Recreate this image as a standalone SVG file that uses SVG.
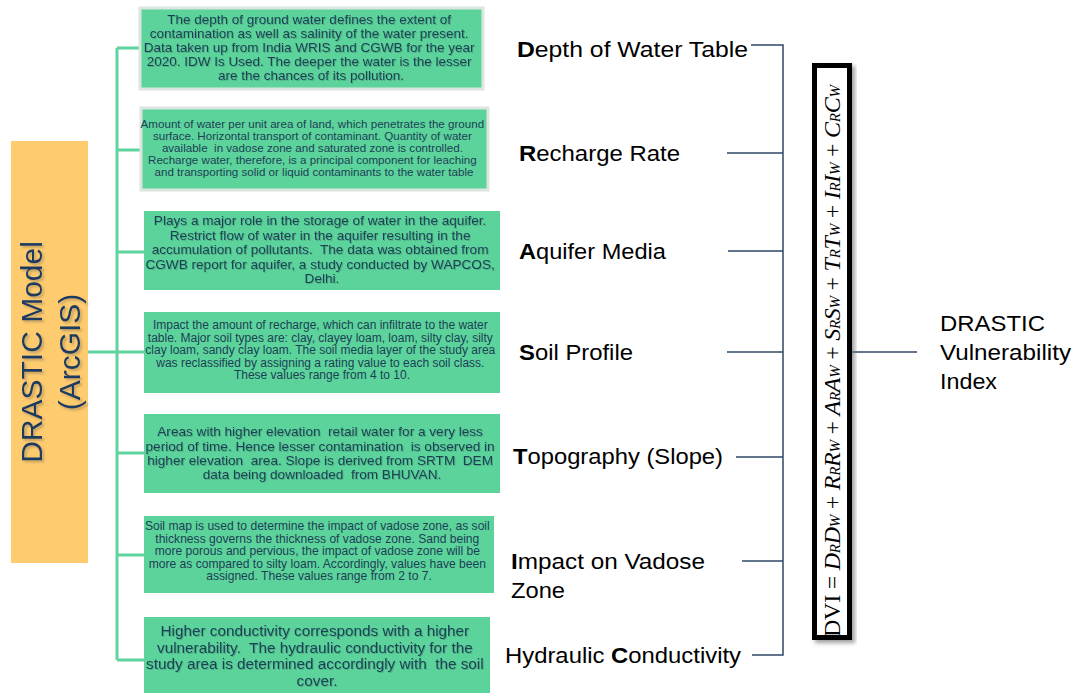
<svg xmlns="http://www.w3.org/2000/svg" width="1077" height="693" viewBox="0 0 1077 693">
<defs>
<style>
.box{fill:#5DD39C}
.edge{fill:#5DD39C;stroke:#DCE6E0;stroke-width:3}
.bt{font-family:"Liberation Sans",Arial,sans-serif;fill:#1B3F55;text-anchor:middle}
.lbl{font-family:"Liberation Sans",Arial,sans-serif;font-size:22px;fill:#000}
.g{stroke:#5ED49F;stroke-width:3;fill:none}
.d{stroke:#2E4A66;stroke-width:1.5;fill:none}
.ot{font-family:"Liberation Sans",Arial,sans-serif;font-size:30px;fill:#1A3A60;text-anchor:middle}
.fm{font-family:"Liberation Serif","Times New Roman",serif;font-size:24px;fill:#000}
.it{font-style:italic}
.sub{font-style:italic;font-size:15px}
</style>
<filter id="sh" x="-20%" y="-5%" width="140%" height="110%">
<feDropShadow dx="3" dy="3" stdDeviation="2" flood-color="#777" flood-opacity="0.7"/>
</filter>
<filter id="ts" x="-10%" y="-10%" width="130%" height="130%">
<feDropShadow dx="2" dy="2" stdDeviation="1" flood-color="#8a7a55" flood-opacity="0.5"/>
</filter>
<filter id="bs" x="-5%" y="-20%" width="110%" height="140%">
<feDropShadow dx="1" dy="1" stdDeviation="0.6" flood-color="#2f6a50" flood-opacity="0.35"/>
</filter>
</defs>

<g id="connectors">
<path class="g" d="M117,48 V660 M117,48 H141 M117,150 H141 M117,252 H144 M88,352 H144 M117,453 H144 M117,555 H144 M117,660 H144"/>
<path class="d" d="M751,45 H783 V655 H752 M727,153 H783 M728,251 H783 M727,352 H783 M736,457 H783 M742,561 H783 M850,352 H917"/>
</g>

<g id="drastic-model">
<rect x="11" y="141" width="77" height="422" fill="#FECB6E"/>
<g filter="url(#ts)">
<text class="ot" transform="translate(42,352) rotate(-90)">DRASTIC Model</text>
<text class="ot" transform="translate(80,352) rotate(-90)">(ArcGIS)</text>
</g>
</g>

<g id="desc-depth">
<rect class="edge" x="140" y="8" width="343" height="81"/>
<text class="bt" font-size="13.5" filter="url(#bs)">
<tspan x="311" y="24">The depth of ground water defines the extent of</tspan>
<tspan x="311" y="38">contamination as well as salinity of the water present.</tspan>
<tspan x="311" y="52">Data taken up from India WRIS and CGWB for the year</tspan>
<tspan x="311" y="66">2020. IDW Is Used. The deeper the water is the lesser</tspan>
<tspan x="311" y="80">are the chances of its pollution.</tspan>
</text>
</g>

<g id="desc-recharge">
<rect class="edge" x="141" y="108" width="347" height="82"/>
<text class="bt" font-size="11.6">
<tspan x="314" y="128">Amount of water per unit area of land, which penetrates the ground</tspan>
<tspan x="314" y="140">surface. Horizontal transport of contaminant. Quantity of water</tspan>
<tspan x="314" y="152">available&#160; in vadose zone and saturated zone is controlled.</tspan>
<tspan x="314" y="164">Recharge water, therefore, is a principal component for leaching</tspan>
<tspan x="314" y="176">and transporting solid or liquid contaminants to the water table</tspan>
</text>
</g>

<g id="desc-aquifer">
<rect class="box" x="144" y="211" width="356" height="79"/>
<text class="bt" font-size="13.6" filter="url(#bs)">
<tspan x="322" y="225">Plays a major role in the storage of water in the aquifer.</tspan>
<tspan x="322" y="239.5">Restrict flow of water in the aquifer resulting in the</tspan>
<tspan x="322" y="254">accumulation of pollutants.&#160; The data was obtained from</tspan>
<tspan x="322" y="268.5">CGWB report for aquifer, a study conducted by WAPCOS,</tspan>
<tspan x="322" y="283">Delhi.</tspan>
</text>
</g>

<g id="desc-soil">
<rect class="box" x="144" y="312" width="356" height="81"/>
<text class="bt" font-size="12">
<tspan x="322" y="329">Impact the amount of recharge, which can infiltrate to the water</tspan>
<tspan x="322" y="341.5">table. Major soil types are: clay, clayey loam, loam, silty clay, silty</tspan>
<tspan x="322" y="354">clay loam, sandy clay loam. The soil media layer of the study area</tspan>
<tspan x="322" y="366.5">was reclassified by assigning a rating value to each soil class.</tspan>
<tspan x="322" y="379">These values range from 4 to 10.</tspan>
</text>
</g>

<g id="desc-topography">
<rect class="box" x="144" y="414" width="356" height="79"/>
<text class="bt" font-size="13.6" filter="url(#bs)">
<tspan x="322" y="436">Areas with higher elevation&#160; retail water for a very less</tspan>
<tspan x="322" y="450.5">period of time. Hence lesser contamination&#160; is observed in</tspan>
<tspan x="322" y="465">higher elevation&#160; area. Slope is derived from SRTM&#160; DEM</tspan>
<tspan x="322" y="479">data being downloaded&#160; from BHUVAN.</tspan>
</text>
</g>

<g id="desc-vadose">
<rect class="box" x="144" y="516" width="350" height="77"/>
<text class="bt" font-size="12.1">
<tspan x="319" y="530">Soil map is used to determine the impact of vadose zone, as soil</tspan>
<tspan x="319" y="542.5">thickness governs the thickness of vadose zone. Sand being</tspan>
<tspan x="319" y="555">more porous and pervious, the impact of vadose zone will be</tspan>
<tspan x="319" y="567.5">more as compared to silty loam. Accordingly, values have been</tspan>
<tspan x="319" y="580">assigned. These values range from 2 to 7.</tspan>
</text>
</g>

<g id="desc-conductivity">
<rect class="box" x="144" y="617" width="346" height="76"/>
<text class="bt" font-size="15.3" filter="url(#bs)">
<tspan x="317" y="636">Higher conductivity corresponds with a higher</tspan>
<tspan x="317" y="652.5">vulnerability.&#160; The hydraulic conductivity for the</tspan>
<tspan x="317" y="669">study area is determined accordingly with&#160; the soil</tspan>
<tspan x="317" y="685.5">cover.</tspan>
</text>
</g>

<g id="label-depth"><text class="lbl" x="517" y="57" textLength="231" lengthAdjust="spacingAndGlyphs"><tspan font-weight="bold">D</tspan>epth of Water Table</text></g>
<g id="label-recharge"><text class="lbl" x="519" y="161" textLength="161" lengthAdjust="spacingAndGlyphs"><tspan font-weight="bold">R</tspan>echarge Rate</text></g>
<g id="label-aquifer"><text class="lbl" x="519" y="259" textLength="147" lengthAdjust="spacingAndGlyphs"><tspan font-weight="bold">A</tspan>quifer Media</text></g>
<g id="label-soil"><text class="lbl" x="519" y="360" textLength="114" lengthAdjust="spacingAndGlyphs"><tspan font-weight="bold">S</tspan>oil Profile</text></g>
<g id="label-topography"><text class="lbl" x="513" y="464" textLength="210" lengthAdjust="spacingAndGlyphs"><tspan font-weight="bold">T</tspan>opography (Slope)</text></g>
<g id="label-vadose">
<text class="lbl" x="511" y="569" textLength="194" lengthAdjust="spacingAndGlyphs"><tspan font-weight="bold">I</tspan>mpact on Vadose</text>
<text class="lbl" x="511" y="598" textLength="54" lengthAdjust="spacingAndGlyphs">Zone</text>
</g>
<g id="label-conductivity"><text class="lbl" x="505" y="663" textLength="236" lengthAdjust="spacingAndGlyphs">Hydraulic <tspan font-weight="bold">C</tspan>onductivity</text></g>

<g id="formula">
<rect x="814.5" y="65.5" width="35" height="572" fill="#fff" stroke="#000" stroke-width="5" filter="url(#sh)"/>
<text class="fm" transform="translate(840,361) rotate(-90)" text-anchor="middle" textLength="552" lengthAdjust="spacing">DVI = <tspan class="it">D</tspan><tspan class="sub">R</tspan><tspan class="it">D</tspan><tspan class="sub">W</tspan> + <tspan class="it">R</tspan><tspan class="sub">R</tspan><tspan class="it">R</tspan><tspan class="sub">W</tspan> + <tspan class="it">A</tspan><tspan class="sub">R</tspan><tspan class="it">A</tspan><tspan class="sub">W</tspan> + <tspan class="it">S</tspan><tspan class="sub">R</tspan><tspan class="it">S</tspan><tspan class="sub">W</tspan> + <tspan class="it">T</tspan><tspan class="sub">R</tspan><tspan class="it">T</tspan><tspan class="sub">W</tspan> + <tspan class="it">I</tspan><tspan class="sub">R</tspan><tspan class="it">I</tspan><tspan class="sub">W</tspan> + <tspan class="it">C</tspan><tspan class="sub">R</tspan><tspan class="it">C</tspan><tspan class="sub">W</tspan></text>
</g>

<g id="dvi-label">
<text class="lbl" x="940" y="331" textLength="105" lengthAdjust="spacingAndGlyphs">DRASTIC</text>
<text class="lbl" x="940" y="360" textLength="131" lengthAdjust="spacingAndGlyphs">Vulnerability</text>
<text class="lbl" x="940" y="389" textLength="57" lengthAdjust="spacingAndGlyphs">Index</text>
</g>
</svg>
